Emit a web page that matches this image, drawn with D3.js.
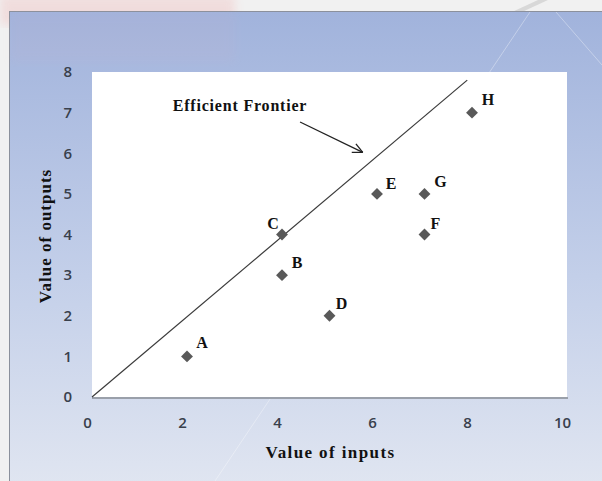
<!DOCTYPE html>
<meta charset="utf-8">
<style>
    body{ margin:0; background:#f1f1f1; }
    .serif{ font-family:"Liberation Serif", "DejaVu Serif", serif; font-weight:bold; fill:#111; }
</style>
<script src="https://d3js.org/d3.v7.min.js"></script>
<div id="chart"></div>
<script>
    // units of inputs and outputs for each unit
    var names   = ["A", "B", "C", "D", "E", "F", "G", "H"];
    var inputs  = [2, 4, 4, 5, 6, 7, 7, 8];
    var outputs = [1, 3, 4, 2, 5, 4, 5, 7];
    // frontier line end points
    var frontierX = [0, 7.9];
    var frontierY = [0, 7.8];
    var xTicks = [0, 2, 4, 6, 8, 10];
    var yTicks = [0, 1, 2, 3, 4, 5, 6, 7, 8];

    var W = 602, H = 481;
    var plot = {left: 92, right: 567, top: 72, bottom: 397};

    var svg = d3.select("#chart").append("svg")
        .attr("width", W).attr("height", H);

    var defs = svg.append("defs");
    var grad = defs.append("linearGradient").attr("id", "bg")
        .attr("x1", 0).attr("y1", 0).attr("x2", 0).attr("y2", 1);
    grad.append("stop").attr("offset", "0%").attr("stop-color", "#a1b3dc");
    grad.append("stop").attr("offset", "55%").attr("stop-color", "#c3cfe9");
    grad.append("stop").attr("offset", "100%").attr("stop-color", "#e1e6f1");
    defs.append("filter").attr("id", "blur")
        .append("feGaussianBlur").attr("stdDeviation", 5);

    // faded logo behind, top left
    svg.append("rect").attr("x", 0).attr("y", -5).attr("width", 235).attr("height", 30)
        .attr("fill", "#f0b0b0").attr("opacity", 0.3).attr("filter", "url(#blur)");
    svg.append("path").attr("d", "M512,12 L538,0 L548,0 L522,12 Z").attr("fill", "#d8d8d8");

    // chart panel
    svg.append("rect").attr("x", 9.5).attr("y", 11.5).attr("width", W).attr("height", H)
        .attr("fill", "url(#bg)").attr("stroke", "#8b909c");
    svg.append("rect").attr("x", 10).attr("y", 12).attr("width", 225).attr("height", 50)
        .attr("fill", "#e9a8b4").attr("opacity", 0.06).attr("filter", "url(#blur)");

    // faint slide decoration lines
    svg.append("line").attr("x1", 530).attr("y1", 12).attr("x2", 215).attr("y2", 481)
        .attr("stroke", "#fff").attr("stroke-opacity", 0.35);
    svg.append("line").attr("x1", 556).attr("y1", 12).attr("x2", 602).attr("y2", 65)
        .attr("stroke", "#fff").attr("stroke-opacity", 0.35);

    // plot area
    svg.append("rect").attr("x", plot.left).attr("y", plot.top)
        .attr("width", plot.right - plot.left).attr("height", plot.bottom - plot.top)
        .attr("fill", "#fff");
    svg.append("line").attr("x1", plot.left).attr("y1", plot.bottom + 1)
        .attr("x2", plot.right + 1).attr("y2", plot.bottom + 1)
        .attr("stroke", "#9aa0aa").attr("stroke-width", 2);

    var x = d3.scaleLinear().domain([0, 10]).range([plot.left, plot.right]);
    var y = d3.scaleLinear().domain([0, 8]).range([plot.bottom, plot.top]);

    var xAxis = svg.append("g")
        .attr("transform", "translate(0," + (plot.bottom + 16) + ")")
        .call(d3.axisBottom(x).tickValues(xTicks).tickSize(0).tickPadding(4));
    xAxis.select(".domain").remove();
    xAxis.selectAll("text").attr("dx", -5);

    var yAxis = svg.append("g")
        .attr("transform", "translate(" + (plot.left - 18) + ",0)")
        .call(d3.axisLeft(y).tickValues(yTicks).tickSize(0).tickPadding(2));
    yAxis.select(".domain").remove();

    svg.selectAll(".tick text")
        .style("font-family", "'Open Sans', 'Liberation Sans', sans-serif")
        .style("font-size", "15px")
        .style("font-weight", "600")
        .style("fill", "#39404c");

    // frontier line
    svg.append("line")
        .attr("x1", x(frontierX[0])).attr("y1", y(frontierY[0]))
        .attr("x2", x(frontierX[1])).attr("y2", y(frontierY[1]))
        .attr("stroke", "#3a3a3a").attr("stroke-width", 1.2);

    // points
    var pts = names.map(function(n, i){ return {name: n, x: inputs[i], y: outputs[i]}; });
    svg.append("g").selectAll("path")
        .data(pts)
        .join("path")
        .attr("d", d3.symbol().type(d3.symbolDiamond2).size(90))
        .attr("transform", function(d){ return "translate(" + x(d.x) + "," + y(d.y) + ")"; })
        .attr("fill", "#595959");

    var offs = {A:[15,-14], B:[15,-13], C:[-9,-11], D:[12,-12], E:[14,-10], F:[11,-11], G:[16,-12], H:[16,-13]};
    svg.append("g").selectAll("text")
        .data(pts)
        .join("text")
        .attr("class", "serif")
        .attr("x", function(d){ return x(d.x) + offs[d.name][0]; })
        .attr("y", function(d){ return y(d.y) + offs[d.name][1]; })
        .attr("text-anchor", "middle")
        .attr("dominant-baseline", "central")
        .style("font-size", "16px")
        .text(function(d){ return d.name; });

    // annotation
    svg.append("text").attr("class", "serif")
        .attr("x", x(1.7)).attr("y", y(7.04))
        .style("font-size", "16px").style("letter-spacing", "0.8px")
        .text("Efficient Frontier");
    var ax1 = x(4.38), ay1 = y(6.77), ax2 = x(5.7), ay2 = y(6.02);
    svg.append("line").attr("x1", ax1).attr("y1", ay1).attr("x2", ax2).attr("y2", ay2)
        .attr("stroke", "#222").attr("stroke-width", 1.3);
    var ang = Math.atan2(ay2 - ay1, ax2 - ax1);
    [0.45, -0.45].forEach(function(a){
        svg.append("line").attr("x1", ax2).attr("y1", ay2)
            .attr("x2", ax2 - 11 * Math.cos(ang + a)).attr("y2", ay2 - 11 * Math.sin(ang + a))
            .attr("stroke", "#222").attr("stroke-width", 1.3);
    });

    // axis titles
    svg.append("text").attr("class", "serif")
        .attr("x", (plot.left + plot.right) / 2 + 1).attr("y", 458)
        .attr("text-anchor", "middle").style("font-size", "17px").style("letter-spacing", "1.4px")
        .text("Value of  inputs");
    svg.append("text").attr("class", "serif")
        .attr("transform", "translate(51,236) rotate(-90)")
        .attr("text-anchor", "middle").style("font-size", "17px").style("letter-spacing", "1px")
        .text("Value of outputs");
</script>
